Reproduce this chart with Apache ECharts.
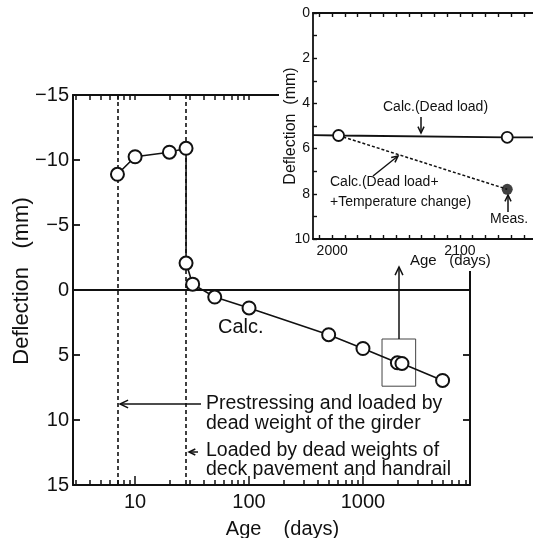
<!DOCTYPE html>
<html>
<head>
<meta charset="utf-8">
<script src="https://cdn.jsdelivr.net/npm/echarts@6/dist/echarts.min.js"></script>
<style>
  html, body { margin: 0; padding: 0; background: #fff; }
  #main { width: 533px; height: 538px; }
</style>
</head>
<body>
<div id="main"></div>
<script>
// main plot: age (days, log scale) vs deflection (mm, downward = positive)
var ages = [7, 10, 20, 28, 28, 32, 50, 100, 500, 1000, 2005, 2200, 5000];
var deflections = [-8.9, -10.25, -10.6, -10.9, -2.07, -0.45, 0.54, 1.38, 3.44, 4.5, 5.6, 5.65, 6.96];
var loadAges = [7, 28];
var ageLabels = [10, 100, 1000];
var ageMinorTicks = [3, 4, 5, 6, 7, 8, 9, 20, 30, 40, 50, 60, 70, 80, 90,
  200, 300, 400, 500, 600, 700, 800, 900, 2000, 3000, 4000, 5000, 6000, 7000, 8000];
var zoomBox = [[1470, 3.77], [2900, 7.4]];

// inset: zoom around 2000 days
var insetAges = [1985, 2005, 2137, 2165];
var insetCalc = [5.4, 5.42, 5.5, 5.5];
var insetTempAges = [2005, 2137];
var insetTemp = [5.42, 7.8];
var measAges = [2137];
var measDefl = [7.8];
var insetAgeLabels = [2000, 2100];
var insetAgeTicks = [1990, 2000, 2010, 2020, 2030, 2040, 2050, 2060, 2070, 2080, 2090,
  2100, 2110, 2120, 2130, 2140, 2150, 2160];
var insetDeflTicks = [0, 1, 2, 3, 4, 5, 6, 7, 8, 9, 10];

var FONT = '"Liberation Sans", Arial, Helvetica, sans-serif';
var INK = '#111';

var chart = echarts.init(document.getElementById('main'), null, { renderer: 'canvas' });

function pairs(xs, ys) {
  return xs.map(function (x, i) { return [x, ys[i]]; });
}

function txt(x, y, s, size) {
  return {
    type: 'text', z: 40,
    style: { text: s, x: x, y: y, font: size + 'px ' + FONT, fill: INK,
      textAlign: 'left', textVerticalAlign: 'middle', verticalAlign: 'middle' }
  };
}
function arrow(x1, y1, x2, y2, head) {
  // line from (x1,y1) to (x2,y2) with an open head at (x2,y2)
  var a = Math.atan2(y2 - y1, x2 - x1);
  var h = head || 8;
  var p1 = [x2 - h * Math.cos(a - 0.45), y2 - h * Math.sin(a - 0.45)];
  var p2 = [x2 - h * Math.cos(a + 0.45), y2 - h * Math.sin(a + 0.45)];
  return [
    { type: 'polyline', z: 40, shape: { points: [[x1, y1], [x2, y2]] }, style: { stroke: INK, lineWidth: 1.5, fill: null } },
    { type: 'polyline', z: 40, shape: { points: [p1, [x2, y2], p2] }, style: { stroke: INK, lineWidth: 1.5, fill: null } }
  ];
}

var mainTickStyle = { show: true, inside: true, length: 5, lineStyle: { color: INK, width: 1.5 } };
var axisLine2 = { show: true, onZero: false, lineStyle: { color: INK, width: 2 } };
var insetTick = { show: true, inside: true, length: 4, customValues: insetAgeTicks, lineStyle: { color: INK, width: 1.4 } };

var option = {
  animation: false,
  backgroundColor: '#fff',
  textStyle: { fontFamily: FONT, color: INK },
  grid: [
    { left: 73, top: 95, width: 397, height: 390, outerBoundsMode: 'none', containLabel: false },
    { left: 313, top: 13, width: 230, height: 226, outerBoundsMode: 'none', containLabel: false }
  ],
  xAxis: [
    { // 0 main bottom, minor ticks + labels
      type: 'log', gridIndex: 0, min: 2.85, max: 8700, position: 'bottom',
      axisLine: axisLine2,
      axisTick: Object.assign({}, mainTickStyle, { customValues: ageMinorTicks }),
      axisLabel: { show: true, customValues: ageLabels, fontSize: 20, color: INK, margin: 7,
        fontFamily: FONT, formatter: function (v) { return String(Math.round(v)); } },
      splitLine: { show: false },
      name: 'Age    (days)', nameLocation: 'middle', nameGap: 34, nameMoveOverlap: false,
      nameTextStyle: { fontSize: 20, color: INK, fontFamily: FONT, padding: [0, 0, 0, 22] }
    },
    { // 1 main bottom, major ticks
      type: 'log', gridIndex: 0, min: 2.85, max: 8700, position: 'bottom',
      axisLine: { show: false, onZero: false },
      axisTick: Object.assign({}, mainTickStyle, { length: 9, customValues: ageLabels }),
      axisLabel: { show: false }, splitLine: { show: false }
    },
    { // 2 main top
      type: 'log', gridIndex: 0, min: 2.85, max: 8700, position: 'top',
      axisLine: axisLine2,
      axisTick: Object.assign({}, mainTickStyle, { customValues: ageMinorTicks.concat(ageLabels) }),
      axisLabel: { show: false }, splitLine: { show: false }
    },
    { // 3 inset bottom
      type: 'value', gridIndex: 1, min: 1985, max: 2165, position: 'bottom', z: 30,
      axisLine: { show: true, onZero: false, lineStyle: { color: INK, width: 1.8 } },
      axisTick: insetTick,
      axisLabel: { show: true, customValues: insetAgeLabels, fontSize: 14, color: INK, margin: 5, fontFamily: FONT,
        formatter: function (v) { return String(v); } },
      splitLine: { show: false }
    },
    { // 4 inset top
      type: 'value', gridIndex: 1, min: 1985, max: 2165, position: 'top', z: 30,
      axisLine: { show: true, onZero: false, lineStyle: { color: INK, width: 1.8 } },
      axisTick: insetTick,
      axisLabel: { show: false }, splitLine: { show: false }
    }
  ],
  yAxis: [
    { // 0 main left
      type: 'value', gridIndex: 0, inverse: true, min: -15, max: 15, interval: 5, position: 'left',
      axisLine: axisLine2,
      axisTick: { show: true, inside: true, length: 7, lineStyle: { color: INK, width: 1.8 } },
      axisLabel: { fontSize: 20, color: INK, margin: 4, fontFamily: FONT,
        formatter: function (v) { return v < 0 ? '\u2212' + Math.abs(v) : String(v); } },
      splitLine: { show: false },
      name: 'Deflection   (mm)', nameLocation: 'middle', nameRotate: 90, nameGap: 40, nameMoveOverlap: false,
      nameTextStyle: { fontSize: 22, color: INK, fontFamily: FONT, padding: [0, 0, 0, 18] }
    },
    { // 1 main right
      type: 'value', gridIndex: 0, inverse: true, min: -15, max: 15, interval: 5, position: 'right',
      axisLine: axisLine2,
      axisTick: { show: true, inside: true, length: 7, lineStyle: { color: INK, width: 1.8 } },
      axisLabel: { show: false }, splitLine: { show: false }
    },
    { // 2 inset left
      type: 'value', gridIndex: 1, inverse: true, min: 0, max: 10, interval: 2, position: 'left', z: 30,
      axisLine: { show: true, onZero: false, lineStyle: { color: INK, width: 1.8 } },
      axisTick: { show: true, inside: true, length: 4, customValues: insetDeflTicks, lineStyle: { color: INK, width: 1.4 } },
      axisLabel: { fontSize: 14, color: INK, margin: 3, fontFamily: FONT },
      splitLine: { show: false },
      name: 'Deflection  (mm)', nameLocation: 'middle', nameRotate: 90, nameGap: 14, nameMoveOverlap: false,
      nameTextStyle: { fontSize: 16, color: INK, fontFamily: FONT }
    }
  ],
  series: [
    { // reference lines kept under the data circles
      name: 'guides', type: 'line', xAxisIndex: 0, yAxisIndex: 0, z: 1,
      data: [], symbol: 'none',
      markLine: {
        z: 1, silent: true, symbol: ['none', 'none'], label: { show: false },
        lineStyle: { color: INK, width: 1.6, type: [4, 3] },
        data: loadAges.map(function (a) { return { xAxis: a }; }).concat([
          { yAxis: 0, lineStyle: { type: 'solid', width: 2, color: INK } }
        ])
      },
      markArea: {
        z: 1, silent: true, label: { show: false },
        itemStyle: { color: 'rgba(0,0,0,0)', borderColor: '#444', borderWidth: 1 },
        data: [[{ coord: zoomBox[0] }, { coord: zoomBox[1] }]]
      }
    },
    {
      name: 'Calc.', type: 'line', xAxisIndex: 0, yAxisIndex: 0, z: 3,
      data: pairs(ages, deflections),
      symbol: 'circle', symbolSize: 13,
      itemStyle: { color: '#fff', borderColor: INK, borderWidth: 2 },
      lineStyle: { color: INK, width: 1.6 }
    },
    {
      name: 'Calc. (Dead load)', type: 'line', xAxisIndex: 3, yAxisIndex: 2, z: 32,
      data: pairs(insetAges, insetCalc),
      symbol: function (v, p) { return (p.dataIndex === 0 || p.dataIndex === insetAges.length - 1) ? 'none' : 'circle'; },
      symbolSize: 11,
      itemStyle: { color: '#fff', borderColor: INK, borderWidth: 1.8 },
      lineStyle: { color: INK, width: 1.8 }
    },
    {
      name: 'Calc. (Dead load + Temperature change)', type: 'line', xAxisIndex: 3, yAxisIndex: 2, z: 31,
      data: pairs(insetTempAges, insetTemp),
      symbol: 'none',
      lineStyle: { color: INK, width: 1.5, type: [3, 2] }
    },
    {
      name: 'Meas.', type: 'scatter', xAxisIndex: 3, yAxisIndex: 2, z: 33,
      data: pairs(measAges, measDefl),
      symbol: 'circle', symbolSize: 11,
      itemStyle: { color: INK }
    }
  ],
  graphic: [
    // white backing behind the inset
    { type: 'rect', z: 20, shape: { x: 279, y: 0, width: 260, height: 271 }, style: { fill: '#fff' } }
  ]
    .concat([
      txt(218, 327, 'Calc.', 20),
      txt(206, 404, 'Prestressing and loaded by', 19.5),
      txt(206, 424, 'dead weight of the girder', 19.5),
      txt(206, 451, 'Loaded by dead weights of', 19.5),
      txt(206, 470, 'deck pavement and handrail', 19.5),
      txt(383, 107, 'Calc.(Dead load)', 14),
      txt(330, 182, 'Calc.(Dead load+', 14),
      txt(330, 202, '+Temperature change)', 14),
      txt(490, 219, 'Meas.', 14),
      txt(410, 261, 'Age   (days)', 15)
    ])
    .concat(arrow(201, 404, 120, 404, 9))
    .concat(arrow(198, 452, 189, 452, 7))
    .concat(arrow(399, 339, 399, 267, 9))
    .concat(arrow(421, 117, 421, 133, 7))
    .concat(arrow(373, 176, 398, 156, 7))
    .concat(arrow(508, 212, 508, 195, 7))
};

chart.setOption(option);
</script>
</body>
</html>
